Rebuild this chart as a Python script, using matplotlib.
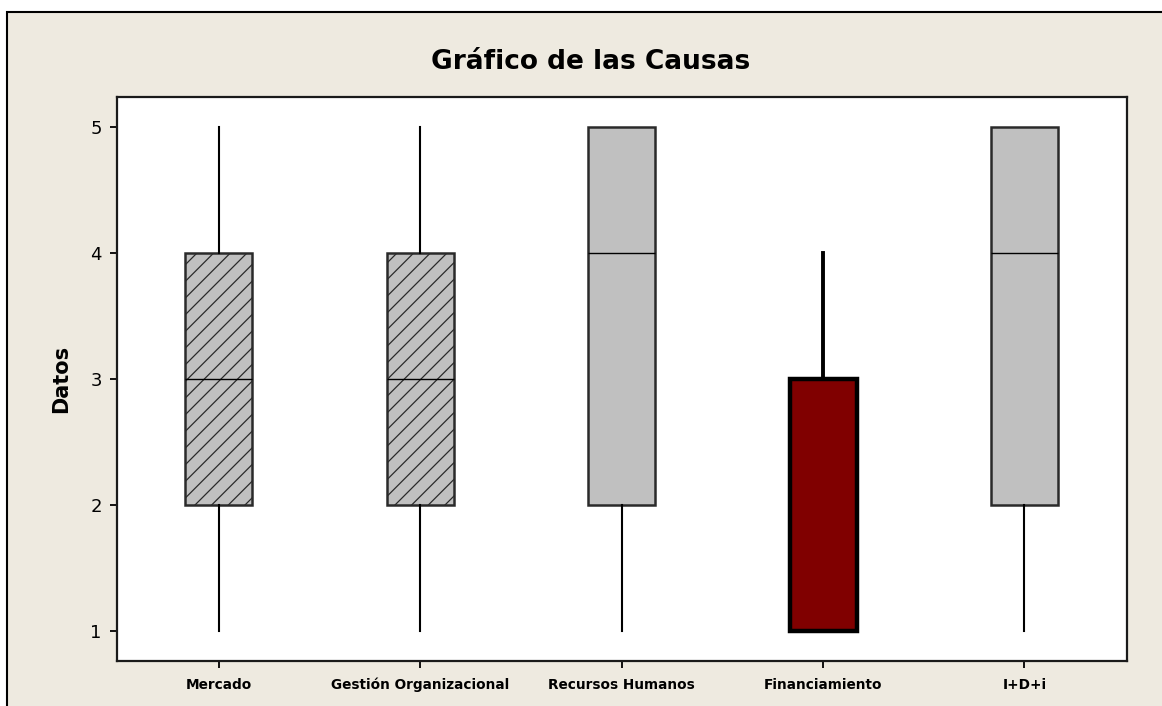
import matplotlib.pyplot as plt
from matplotlib.patches import Rectangle

categories = ["Mercado", "Gestión Organizacional", "Recursos Humanos",
              "Financiamiento", "I+D+i"]
whislo = [1, 1, 1, 1, 1]
q1 = [2, 2, 2, 1, 2]
med = [3, 3, 4, 1, 4]
q3 = [4, 4, 5, 3, 5]
whishi = [5, 5, 5, 4, 5]

fills = ["#c0c0c0", "#c0c0c0", "#c0c0c0", "#800000", "#c0c0c0"]
hatches = ["//", "//", "", "", ""]

fig = plt.figure(figsize=(11.62, 7.06), dpi=100)
fig.patch.set_facecolor("white")
fig.patches.append(Rectangle((0.006, -0.1), 1.2, 1.083, transform=fig.transFigure,
                             facecolor="#eeeae0", edgecolor="black", lw=1.5,
                             zorder=-10))

ax = fig.add_axes([0.1007, 0.0637, 0.8693, 0.7989])
ax.set_zorder(5)
ax.set_facecolor("white")

stats = []
for i, name in enumerate(categories):
    stats.append(dict(label=name, whislo=whislo[i], q1=q1[i], med=med[i],
                      q3=q3[i], whishi=whishi[i], fliers=[]))

plt.rcParams["hatch.color"] = "#3a3a3a"
plt.rcParams["hatch.linewidth"] = 0.9
res = ax.bxp(stats, positions=range(1, 6), widths=0.333, showcaps=False,
             showfliers=False, patch_artist=True,
             boxprops=dict(edgecolor="#2a2a2a", linewidth=1.8),
             whiskerprops=dict(color="black", linewidth=1.5),
             medianprops=dict(color="black", linewidth=1.0))

for i, box in enumerate(res["boxes"]):
    box.set_facecolor(fills[i])
    box.set_hatch(hatches[i])
res["boxes"][3].set_edgecolor("black")
res["boxes"][3].set_linewidth(3.2)
res["whiskers"][6].set_linewidth(2.8)
res["whiskers"][7].set_linewidth(2.8)

ax.set_xlim(0.494, 5.51)
ax.set_ylim(0.762, 5.238)
ax.set_yticks([1, 2, 3, 4, 5])
ax.set_xticks(range(1, 6))
ax.set_xticklabels(categories, fontsize=9.8, fontweight="bold")
ax.tick_params(axis="y", labelsize=13, length=5, width=1.3, pad=6)
ax.tick_params(axis="x", length=5, width=1.3, pad=7)
for s in ax.spines.values():
    s.set_linewidth(1.6)
    s.set_color("#1a1a1a")

ax.set_ylabel("Datos", fontsize=15, fontweight="bold", labelpad=14)
fig.text(0.508, 0.912, "Gráfico de las Causas", ha="center", va="center",
         fontsize=19, fontweight="bold")

fig.savefig("out.png", dpi=100)
